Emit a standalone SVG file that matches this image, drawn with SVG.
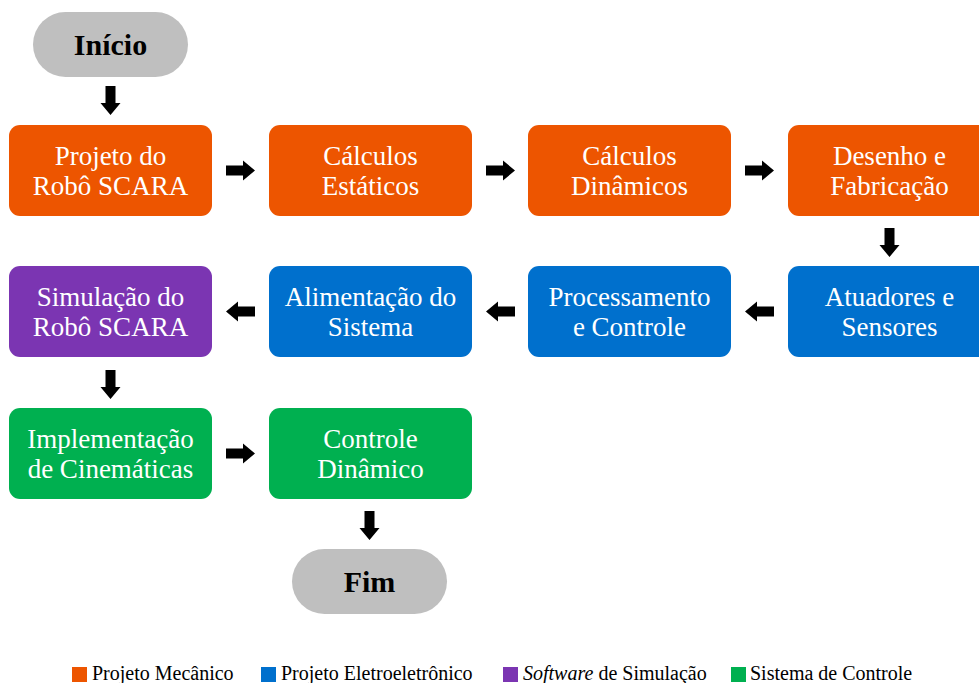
<svg xmlns="http://www.w3.org/2000/svg" width="979" height="683" viewBox="0 0 979 683">
<style>
.t{font-family:"Liberation Serif","DejaVu Serif",serif;font-size:27px;fill:#ffffff;text-anchor:middle}
.b{font-family:"Liberation Serif","DejaVu Serif",serif;font-size:30px;font-weight:bold;fill:#000000;text-anchor:middle}
.l{font-family:"Liberation Serif","DejaVu Serif",serif;font-size:20px;fill:#000000}
.or{fill:#ED5500}.bl{fill:#0070CD}.pu{fill:#7B35B2}.gr{fill:#00B050}.gy{fill:#BFBFBF}
</style>
<defs>
<path id="arr" d="M0,-5 H17 V-10 L29,0 L17,10 V5 H0 Z" fill="#000000"/>
</defs>
<rect width="979" height="683" fill="#ffffff"/>
<g id="inicio"><rect class="gy" x="33" y="12" width="155" height="65" rx="32.5"/><text class="b" x="110.5" y="55">Início</text></g>
<g id="projeto"><rect class="or" x="9" y="125" width="203" height="91" rx="11"/><text class="t" x="110.5" y="165">Projeto do</text><text class="t" x="110.5" y="195">Robô SCARA</text></g>
<g id="calc-est"><rect class="or" x="269" y="125" width="203" height="91" rx="11"/><text class="t" x="370.5" y="165">Cálculos</text><text class="t" x="370.5" y="195">Estáticos</text></g>
<g id="calc-din"><rect class="or" x="528" y="125" width="203" height="91" rx="11"/><text class="t" x="629.5" y="165">Cálculos</text><text class="t" x="629.5" y="195">Dinâmicos</text></g>
<g id="desenho"><rect class="or" x="788" y="125" width="203" height="91" rx="11"/><text class="t" x="889.5" y="165">Desenho e</text><text class="t" x="889.5" y="195">Fabricação</text></g>
<g id="atuadores"><rect class="bl" x="788" y="266" width="203" height="91" rx="11"/><text class="t" x="889.5" y="306">Atuadores e</text><text class="t" x="889.5" y="336">Sensores</text></g>
<g id="processamento"><rect class="bl" x="528" y="266" width="203" height="91" rx="11"/><text class="t" x="629.5" y="306">Processamento</text><text class="t" x="629.5" y="336">e Controle</text></g>
<g id="alimentacao"><rect class="bl" x="269" y="266" width="203" height="91" rx="11"/><text class="t" x="370.5" y="306">Alimentação do</text><text class="t" x="370.5" y="336">Sistema</text></g>
<g id="simulacao"><rect class="pu" x="9" y="266" width="203" height="91" rx="11"/><text class="t" x="110.5" y="306">Simulação do</text><text class="t" x="110.5" y="336">Robô SCARA</text></g>
<g id="implementacao"><rect class="gr" x="9" y="408" width="203" height="91" rx="11"/><text class="t" x="110.5" y="448">Implementação</text><text class="t" x="110.5" y="478">de Cinemáticas</text></g>
<g id="controle"><rect class="gr" x="269" y="408" width="203" height="91" rx="11"/><text class="t" x="370.5" y="448">Controle</text><text class="t" x="370.5" y="478">Dinâmico</text></g>
<g id="fim"><rect class="gy" x="292" y="549" width="155" height="65" rx="32.5"/><text class="b" x="369.5" y="592">Fim</text></g>
<g id="connectors">
<use href="#arr" transform="translate(110.5,86) rotate(90)"/>
<use href="#arr" transform="translate(226,170.5)"/>
<use href="#arr" transform="translate(486,170.5)"/>
<use href="#arr" transform="translate(745,170.5)"/>
<use href="#arr" transform="translate(889.5,228) rotate(90)"/>
<use href="#arr" transform="translate(774,311.5) rotate(180)"/>
<use href="#arr" transform="translate(515,311.5) rotate(180)"/>
<use href="#arr" transform="translate(255,311.5) rotate(180)"/>
<use href="#arr" transform="translate(110.5,370) rotate(90)"/>
<use href="#arr" transform="translate(226,453.5)"/>
<use href="#arr" transform="translate(369.5,511) rotate(90)"/>
</g>
<g id="legend">
<rect class="or" x="72" y="667" width="15" height="15"/><text class="l" x="92" y="680">Projeto Mecânico</text>
<rect class="bl" x="261" y="667" width="15" height="15"/><text class="l" x="281" y="680">Projeto Eletroeletrônico</text>
<rect class="pu" x="503" y="667" width="15" height="15"/><text class="l" x="523" y="680"><tspan font-style="italic">Software</tspan> de Simulação</text>
<rect class="gr" x="731" y="667" width="15" height="15"/><text class="l" x="750" y="680">Sistema de Controle</text>
</g>
</svg>
